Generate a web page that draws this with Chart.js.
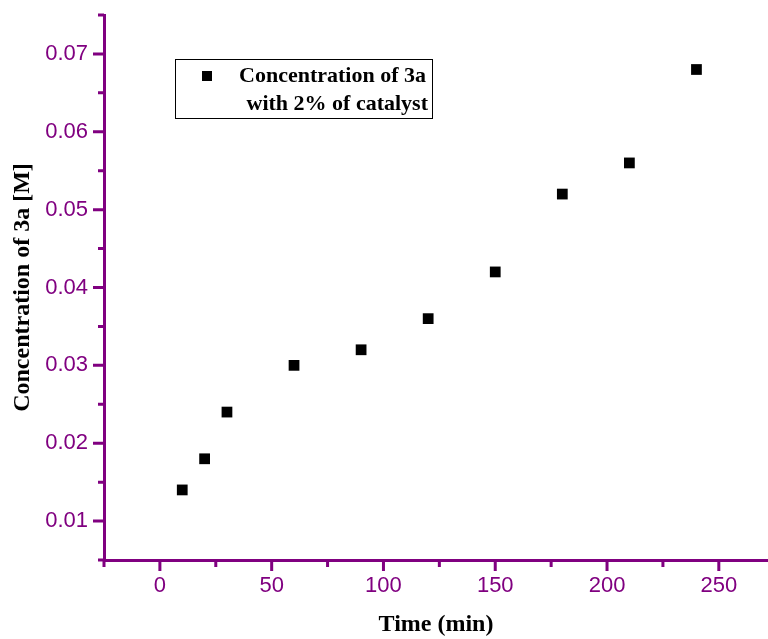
<!DOCTYPE html>
<html>
<head>
<meta charset="utf-8">
<script src="https://cdn.jsdelivr.net/npm/chart.js@4/dist/chart.umd.min.js"></script>
<style>
  html, body { margin: 0; padding: 0; background: #fff; }
  #wrap { width: 768px; height: 639px; }
</style>
</head>
<body>
<div id="wrap"><canvas id="concChart" width="768" height="639"></canvas></div>
<script>
// reaction time (min) and measured concentration of 3a (M)
const times = [10, 20, 30, 60, 90, 120, 150, 180, 210, 240];
const concentrations = [0.014, 0.018, 0.024, 0.030, 0.032, 0.036, 0.042, 0.052, 0.056, 0.068];

const xTickValues = [0, 50, 100, 150, 200, 250];
const xMinorValues = [-25, 25, 75, 125, 175, 225];
const yTickValues = [0.01, 0.02, 0.03, 0.04, 0.05, 0.06, 0.07];
const yMinorValues = [0.005, 0.015, 0.025, 0.035, 0.045, 0.055, 0.065, 0.075];

const seriesLabel = ['Concentration of 3a', 'with 2% of catalyst'];

const PURPLE = '#800080';

// outward tick marks, long for labelled values, short in between
const tickMarks = {
    id: 'tickMarks',
    afterDraw(chart) {
        const ctx = chart.ctx;
        const area = chart.chartArea;
        const xs = chart.scales.x, ys = chart.scales.y;
        ctx.save();
        ctx.strokeStyle = PURPLE;
        ctx.lineWidth = 3;
        ctx.beginPath();
        xTickValues.forEach(v => {
            const px = xs.getPixelForValue(v);
            ctx.moveTo(px, area.bottom); ctx.lineTo(px, area.bottom + 11);
        });
        xMinorValues.forEach(v => {
            const px = xs.getPixelForValue(v);
            ctx.moveTo(px, area.bottom); ctx.lineTo(px, area.bottom + 7);
        });
        yTickValues.forEach(v => {
            const py = ys.getPixelForValue(v);
            ctx.moveTo(area.left, py); ctx.lineTo(area.left - 11, py);
        });
        yMinorValues.forEach(v => {
            const py = ys.getPixelForValue(v);
            ctx.moveTo(area.left, py); ctx.lineTo(area.left - 6, py);
        });
        ctx.stroke();
        ctx.restore();
    }
};

// boxed legend inside the plot
const boxLegend = {
    id: 'boxLegend',
    afterDraw(chart) {
        const ctx = chart.ctx;
        ctx.save();
        ctx.strokeStyle = '#000';
        ctx.lineWidth = 1;
        ctx.strokeRect(175.5, 59.5, 257, 59);
        ctx.fillStyle = '#000';
        ctx.fillRect(202, 71, 10, 10);
        ctx.font = 'bold 22px "Liberation Serif", "Times New Roman", serif';
        ctx.textAlign = 'right';
        ctx.textBaseline = 'alphabetic';
        ctx.fillText(seriesLabel[0], 426, 82);
        ctx.fillText(seriesLabel[1], 428, 110);
        ctx.restore();
    }
};

const points = times.map((t, i) => ({ x: t, y: concentrations[i] }));

new Chart(document.getElementById('concChart').getContext('2d'), {
    type: 'scatter',
    data: {
        datasets: [{
            label: seriesLabel.join(' '),
            data: points,
            pointStyle: 'rect',
            pointRadius: 7.6,
            pointHoverRadius: 7.6,
            backgroundColor: '#000',
            borderColor: '#000',
            borderWidth: 0
        }]
    },
    options: {
        responsive: false,
        animation: false,
        devicePixelRatio: 1,
        layout: { autoPadding: false, padding: { top: 15, right: 0, bottom: 0, left: 0 } },
        plugins: {
            legend: { display: false },
            tooltip: { enabled: false }
        },
        scales: {
            x: {
                type: 'linear',
                min: -25,
                max: 272,
                afterFit(s) {
                    s.height = 79;
                    s.paddingLeft = 0;
                    s.paddingRight = 0;
                },
                afterBuildTicks(s) { s.ticks = xTickValues.map(v => ({ value: v })); },
                grid: { display: false, drawTicks: false },
                border: { display: true, color: PURPLE, width: 3 },
                ticks: {
                    color: PURPLE,
                    padding: 13,
                    maxRotation: 0,
                    font: { family: '"Liberation Sans", Arial, sans-serif', size: 22 }
                },
                title: {
                    display: true,
                    text: 'Time (min)',
                    color: '#000',
                    padding: { top: 0, bottom: 0 },
                    font: { family: '"Liberation Serif", "Times New Roman", serif', size: 24, weight: 'bold' }
                }
            },
            y: {
                type: 'linear',
                min: 0.005,
                max: 0.075,
                afterFit(s) {
                    s.width = 104;
                    s.paddingTop = 0;
                    s.paddingBottom = 0;
                },
                afterBuildTicks(s) { s.ticks = yTickValues.map(v => ({ value: v })); },
                grid: { display: false, drawTicks: false },
                border: { display: true, color: PURPLE, width: 3 },
                ticks: {
                    color: PURPLE,
                    padding: 16,
                    font: { family: '"Liberation Sans", Arial, sans-serif', size: 22 },
                    callback: v => v.toFixed(2)
                },
                title: {
                    display: true,
                    text: 'Concentration of 3a [M]',
                    color: '#000',
                    padding: { top: 8, bottom: 0 },
                    font: { family: '"Liberation Serif", "Times New Roman", serif', size: 24, weight: 'bold' }
                }
            }
        }
    },
    plugins: [tickMarks, boxLegend]
});
</script>
</body>
</html>
